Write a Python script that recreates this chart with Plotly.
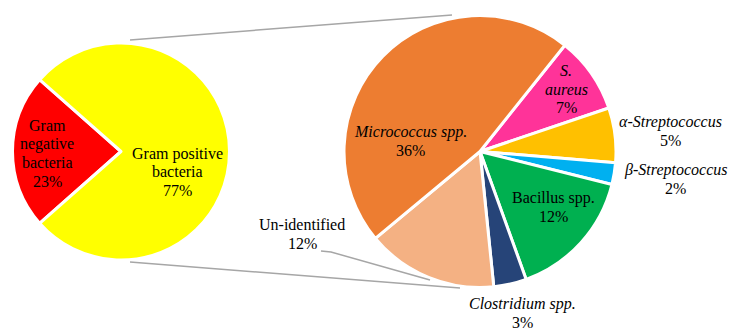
import plotly.graph_objects as go

W, H = 756, 334

# ---- data ----
left_labels = ["Gram negative bacteria", "Gram positive bacteria"]
left_values = [23, 77]
left_colors = ["#FF0000", "#FFFF00"]

right_labels = ["S. aureus", "α-Streptococcus", "β-Streptococcus", "Bacillus spp.",
                "Clostridium spp.", "Un-identified", "Micrococcus spp."]
right_values = [7, 5, 2, 12, 3, 12, 36]
right_colors = ["#FF3399", "#FFC000", "#00B0F0", "#00B050",
                "#264478", "#F4B183", "#ED7D31"]

# label lines (rich text) and their pixel positions (center of the block)
label_lines = [
    ["Gram", "negative", "bacteria", "23%"],
    ["Gram positive", "bacteria", "77%"],
    ["<i>Micrococcus spp.</i>", "36%"],
    ["<i>S.</i>", "<i>aureus</i>", "7%"],
    ["<i>α-Streptococcus</i>", "5%"],
    ["<i>β-Streptococcus</i>", "2%"],
    ["Bacillus spp.", "12%"],
    ["<i>Clostridium spp.</i>", "3%"],
    ["Un-identified", "12%"],
]
label_pos = [(47, 153.5), (177, 172), (411, 141.5), (566, 89), (670, 131),
             (675, 179), (553, 207.5), (522, 313.5), (302, 234)]
LINE_H = 18.5


def px(x):
    return x / W


def py(y):
    return 1 - y / H


# pie geometry (pixels)
LC, LR = (121, 151.5), 108.5
RC, RR = (480, 151.5), 136

FONT = "Times New Roman, Liberation Serif, serif"

fig = go.Figure()
fig.add_trace(go.Pie(
    labels=left_labels, values=left_values, sort=False, direction="clockwise",
    rotation=228.6, marker=dict(colors=left_colors, line=dict(color="white", width=3)),
    textinfo="none", hoverinfo="label+percent",
    domain=dict(x=[px(LC[0] - LR), px(LC[0] + LR)], y=[py(LC[1] + LR), py(LC[1] - LR)]),
    showlegend=False,
))
fig.add_trace(go.Pie(
    labels=right_labels, values=right_values, sort=False, direction="clockwise",
    rotation=38.6, marker=dict(colors=right_colors, line=dict(color="white", width=3)),
    textinfo="none", hoverinfo="label+value",
    domain=dict(x=[px(RC[0] - RR), px(RC[0] + RR)], y=[py(RC[1] + RR), py(RC[1] - RR)]),
    showlegend=False,
))

for lines, (x, y) in zip(label_lines, label_pos):
    n = len(lines)
    for i, t in enumerate(lines):
        yy = y + (i - (n - 1) / 2) * LINE_H
        fig.add_annotation(text=t, x=px(x), y=py(yy), xref="paper", yref="paper",
                           showarrow=False, xanchor="center", yanchor="middle",
                           font=dict(family=FONT, size=16, color="black"))

grey = "#A6A6A6"
# connector lines between the pies
fig.add_shape(type="line", xref="paper", yref="paper",
              x0=px(130), y0=py(40), x1=px(452), y1=py(15),
              line=dict(color=grey, width=1.5))
fig.add_shape(type="line", xref="paper", yref="paper",
              x0=px(130), y0=py(262), x1=px(460), y1=py(288),
              line=dict(color=grey, width=1.5))
# leader line for Un-identified
fig.add_shape(type="path", xref="paper", yref="paper",
              path=f"M {px(321)} {py(251)} L {px(331)} {py(252)} L {px(430)} {py(280)}",
              line=dict(color=grey, width=1.5))

fig.update_layout(width=W, height=H, margin=dict(l=0, r=0, t=0, b=0),
                  paper_bgcolor="white", plot_bgcolor="white",
                  font=dict(family=FONT))
fig.write_html("out.html")
